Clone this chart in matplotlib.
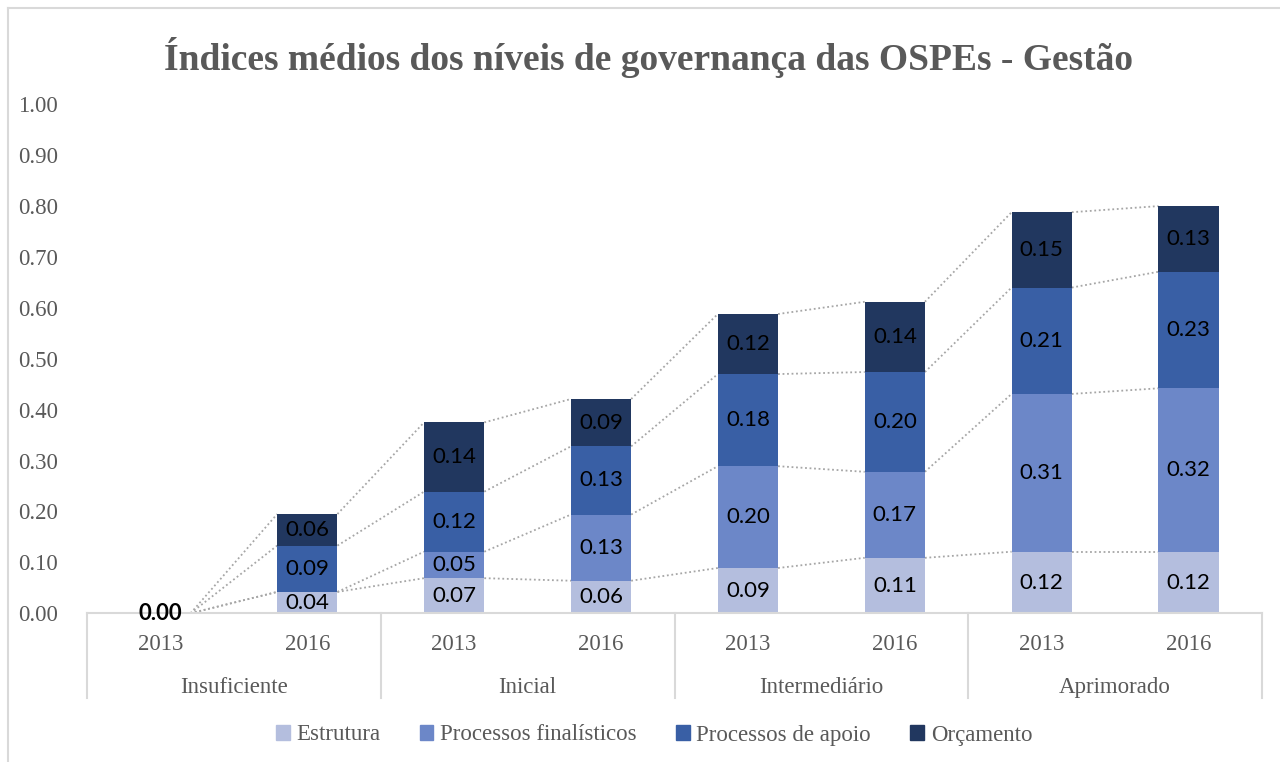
import numpy as np
import matplotlib.pyplot as plt
from matplotlib.patches import Patch
from matplotlib.lines import Line2D

groups = ["Insuficiente", "Inicial", "Intermediário", "Aprimorado"]
years = ["2013", "2016"]
series = ["Estrutura", "Processos finalísticos", "Processos de apoio", "Orçamento"]

# one value per bar: (Insuficiente 2013, 2016, Inicial 2013, 2016, ...)
estrutura = [0.00, 0.042, 0.069, 0.064, 0.089, 0.109, 0.121, 0.121]
finalisticos = [0.00, 0.00, 0.052, 0.130, 0.200, 0.169, 0.310, 0.321]
apoio = [0.00, 0.091, 0.118, 0.134, 0.181, 0.196, 0.209, 0.229]
orcamento = [0.00, 0.062, 0.136, 0.093, 0.118, 0.138, 0.148, 0.129]

colors = ["#B4BEDE", "#6C87C8", "#395FA5", "#21375F"]
gray = "#595959"
serif = "Liberation Serif"
lblfont = "Lato"

fig = plt.figure(figsize=(12.8, 7.62), dpi=100)
ax = fig.add_axes([87 / 1280, 1 - 613.3 / 762, (1262 - 87) / 1280, (613.3 - 104.3) / 762])

x = np.arange(len(estrutura))
width = 0.41
data = [estrutura, finalisticos, apoio, orcamento]
bottom = np.zeros(len(x))
tops = []
for vals, c, name in zip(data, colors, series):
    vals = np.array(vals)
    ax.bar(x, vals, width, bottom=bottom, color=c, label=name, zorder=2)
    for xi, v, b in zip(x, vals, bottom):
        if v > 0:
            ax.text(xi, b + v / 2, f"{v:.2f}", ha="center", va="center",
                    fontsize=16, family=lblfont, color="black", zorder=3)
    bottom = bottom + vals
    tops.append(bottom.copy())

# empty bar: excel stacks the four zero labels
for xi in x[bottom == 0]:
    ax.text(xi, 0, "0.00", ha="center", va="center", fontsize=16,
            family=lblfont, fontweight="bold", color="black", zorder=3)

# series lines between bars
for top in tops:
    for i in range(len(x) - 1):
        ax.plot([x[i] + width / 2, x[i + 1] - width / 2], [top[i], top[i + 1]],
                color="#A6A6A6", lw=1.3, ls=(0, (1, 1.5)), zorder=1)

ax.set_xlim(-0.5, len(x) - 0.5)
ax.set_ylim(0, 1.0)
ax.set_yticks(np.arange(0, 1.01, 0.1))
ax.set_yticklabels([f"{v:.2f}" for v in np.arange(0, 1.01, 0.1)],
                   family=serif, fontsize=16.5, color=gray)
ax.tick_params(axis="y", length=0, pad=21)
ax.set_xticks([])
for s in ["top", "right", "left"]:
    ax.spines[s].set_visible(False)
ax.spines["bottom"].set_color("#D9D9D9")
ax.spines["bottom"].set_linewidth(1.5)

# two level category axis
tr = ax.get_xaxis_transform()
for i, xi in enumerate(x):
    ax.text(xi, -0.062, years[i % 2], transform=tr, ha="center", va="center",
            family=serif, fontsize=16.5, color=gray)
for g, name in enumerate(groups):
    ax.text(2 * g + 0.5, -0.145, name, transform=tr, ha="center", va="center",
            family=serif, fontsize=16.5, color=gray)
for b in np.arange(-0.5, len(x), 2):
    ax.plot([b, b], [0, -0.166], transform=tr, color="#D9D9D9", lw=1.5, clip_on=False)

handles = [Patch(color=c, label=n) for c, n in zip(colors, series)]
leg = fig.legend(handles=handles, loc="center", bbox_to_anchor=(654 / 1280, 1 - 735 / 762),
                 ncol=4, frameon=False, handlelength=0.6, handleheight=0.6,
                 handletextpad=0.3, columnspacing=1.7,
                 prop={"family": serif, "size": 16.5})
for t in leg.get_texts():
    t.set_color(gray)

fig.text(649 / 1280, 1 - 57 / 762, "Índices médios dos níveis de governança das OSPEs - Gestão",
         ha="center", va="center", family=serif, fontweight="bold", fontsize=27, color=gray)

# chart border
fig.add_artist(Line2D([8 / 1280, 8 / 1280], [0, 1 - 8 / 762], color="#D9D9D9", lw=1.5))
fig.add_artist(Line2D([8 / 1280, 1], [1 - 8 / 762, 1 - 8 / 762], color="#D9D9D9", lw=1.5))

fig.savefig("out.png", dpi=100)
